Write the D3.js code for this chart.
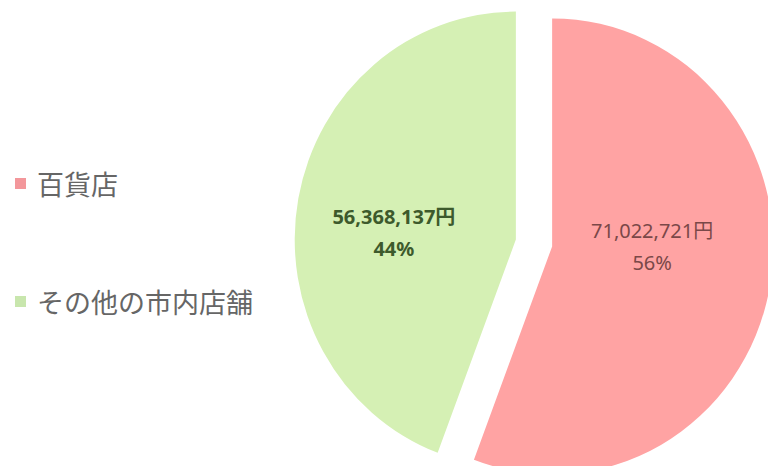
<!DOCTYPE html>
<html>
<head>
<meta charset="utf-8">
<script src="https://cdn.jsdelivr.net/npm/d3@7"></script>
<style>
html,body{margin:0;padding:0;background:#fff;}
svg{display:block;}
</style>
</head>
<body>
<svg id="chart" width="768" height="466"></svg>
<script>
const categories = ["百貨店", "その他の市内店舗"];
const values = [71022721, 56368137];
const percentLabels = ["56%", "44%"];
const colors = ["#FFA3A3", "#D5F0B4"];
const legendColors = ["#F3979B", "#C8E6AD"];
const labelColors = ["#7A4848", "#3D5A2C"];

const svg = d3.select("#chart");
const cx = 534, cy = 243, R = 228, sx = 0.97, explode = 19;

const pie = d3.pie().sort(null).value(d => d)(values);
const arc = d3.arc().innerRadius(0).outerRadius(R);

const g = svg.append("g").attr("transform", `translate(${cx},${cy})`);
const fmt = d3.format(",");
const labelOffsets = [[100, 1], [-122, -7]];

pie.forEach((p, i) => {
  const mid = (p.startAngle + p.endAngle) / 2;
  const ox = Math.sin(mid) * explode * sx;
  const oy = -Math.cos(mid) * explode;
  const sg = g.append("g").attr("transform", `translate(${ox},${oy})`);
  sg.append("path")
    .attr("d", arc(p))
    .attr("transform", `scale(${sx},1)`)
    .attr("fill", colors[i]);
  const lx = labelOffsets[i][0], ly = labelOffsets[i][1];
  const t = sg.append("text")
    .attr("text-anchor", "middle")
    .attr("font-family", "'Noto Sans', 'Noto Sans CJK JP', sans-serif")
    .attr("font-size", 20)
    .attr("font-weight", i === 1 ? "bold" : "normal")
    .attr("fill", labelColors[i]);
  t.append("tspan").attr("x", lx).attr("y", ly - 9).text(fmt(values[i]) + "円");
  t.append("tspan").attr("x", lx).attr("y", ly + 23).text(percentLabels[i]);
});

const legendY = [183, 301];
categories.forEach((c, i) => {
  svg.append("rect")
    .attr("x", 15).attr("y", legendY[i] - 5)
    .attr("width", 11).attr("height", 11)
    .attr("fill", legendColors[i]);
  svg.append("text")
    .attr("x", 37).attr("y", legendY[i])
    .attr("dominant-baseline", "central")
    .attr("font-family", "'Noto Sans CJK JP', sans-serif")
    .attr("font-size", 27)
    .attr("fill", "#666")
    .text(c);
});
</script>
</body>
</html>
